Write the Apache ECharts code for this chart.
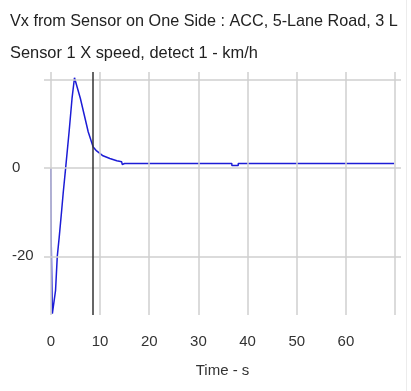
<!DOCTYPE html>
<html>
<head>
<meta charset="utf-8">
<script src="https://cdn.jsdelivr.net/npm/echarts@6/dist/echarts.min.js"></script>
<style>
html,body{margin:0;padding:0;background:#fff;}
#chart{width:411px;height:391px;}
</style>
</head>
<body>
<div id="chart"></div>
<script>
var titleLine1 = "Vx from Sensor on One Side : ACC, 5-Lane Road, 3 L";
var titleLine2 = "Sensor 1 X speed, detect 1 - km/h";
var xAxisName = "Time - s";

var time  = [0, 0.05, 0.06, 0.26, 0.3, 0.6, 0.95, 1.3, 1.7, 2.2, 2.5, 3.0, 3.7, 4.3, 4.8, 5.0, 6.0, 6.8, 7.6, 8.6, 9.3, 10.6, 12.0, 13.4, 14.4, 14.5, 15.0, 30, 36.8, 36.8, 38.1, 38.1, 69.8];
var speed = [0, 0, -16.3, -16.5, -33.0, -33.3, -27.7, -20.0, -15.6, -9.5, -5.7, 0, 8.2, 15.8, 20.5, 20.9, 15.8, 12.0, 8.2, 4.8, 3.9, 2.8, 2.2, 1.66, 1.43, 0.84, 1.05, 1.05, 1.05, 0.58, 0.58, 1.05, 1.05];

var xTicks = [0, 10, 20, 30, 40, 50, 60, 70];
var xLabels = [0, 10, 20, 30, 40, 50, 60];
var yTicks = [-20, 0, 20];
var yLabels = [-20, 0];
var cursorTime = [8.6];

var xMin = -1.4, xMax = 71.2, yMin = -33.3, yMax = 21.8;

var FONT = 'Liberation Sans, Arial, sans-serif';
var gridStyle = {color: '#cfcfcf', width: 1.5, type: 'solid'};
var gridLines = [];
xTicks.forEach(function (v) { gridLines.push({xAxis: v, lineStyle: gridStyle}); });
yTicks.forEach(function (v) { gridLines.push({yAxis: v, lineStyle: gridStyle}); });

var chart = echarts.init(document.getElementById('chart'), null, {renderer: 'canvas'});
chart.setOption({
  animation: false,
  backgroundColor: '#ffffff',
  textStyle: {fontFamily: FONT},
  graphic: [
    {type: 'text', left: 10, top: 14, style: {text: titleLine1, fontSize: 16.2, fill: '#222', fontFamily: FONT}},
    {type: 'text', left: 10, top: 45, style: {text: titleLine2, fontSize: 16.4, fill: '#222', fontFamily: FONT}},
    {type: 'line', shape: {x1: 406.5, y1: 0, x2: 406.5, y2: 391}, style: {stroke: '#ececec', lineWidth: 1}}
  ],
  grid: {left: 44, right: 10, top: 72, bottom: 76, containLabel: false},
  xAxis: {
    type: 'value', min: xMin, max: xMax,
    name: xAxisName, nameLocation: 'middle', nameGap: 48,
    nameTextStyle: {fontSize: 15, color: '#333'},
    axisLine: {show: false}, axisTick: {show: false}, splitLine: {show: false},
    axisLabel: {customValues: xLabels, fontSize: 15, color: '#333', margin: 19}
  },
  yAxis: {
    type: 'value', min: yMin, max: yMax,
    axisLine: {show: false}, axisTick: {show: false}, splitLine: {show: false},
    axisLabel: {customValues: yLabels, fontSize: 15, color: '#333', margin: 32, align: 'left'}
  },
  series: [
    {
      type: 'line', data: [], silent: true,
      markLine: {silent: true, symbol: 'none', label: {show: false}, animation: false, data: gridLines}
    },
    {
      type: 'line',
      data: time.map(function (t, i) { return [t, speed[i]]; }),
      showSymbol: false, symbol: 'none', smooth: false, sampling: null,
      lineStyle: {color: '#1c1cd6', width: 1.5},
      itemStyle: {color: '#1c1cd6'},
      z: 3
    },
    {
      type: 'line', data: [], silent: true, z: 4,
      markLine: {silent: true, symbol: 'none', label: {show: false}, animation: false,
        data: cursorTime.map(function (t) { return {xAxis: t, lineStyle: {color: '#333', width: 1.5, type: 'solid'}}; })}
    }
  ]
});
</script>
</body>
</html>
